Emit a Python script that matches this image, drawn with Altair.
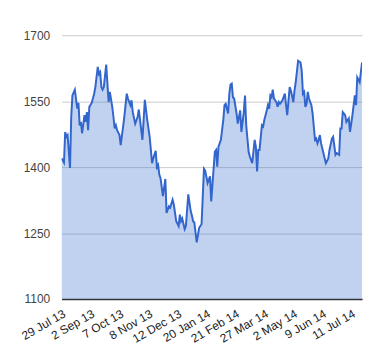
import altair as alt
import pandas as pd

days = [0, 2, 3, 4, 5, 7, 8, 9, 11, 13, 14, 15, 16, 17, 19, 20, 21, 22, 23, 25,
        27, 28, 30, 31, 32, 33, 34, 35, 37, 38, 39, 40, 42, 43, 44, 45, 46, 48, 49, 51,
        52, 54, 55, 57, 58, 59, 61, 63, 64, 67, 68, 69, 71, 73, 75, 76, 78, 79, 80, 81,
        82, 84, 86, 87, 89, 90, 92, 93, 95, 97, 98, 99, 100, 102, 103, 105, 107, 108, 109, 110,
        112, 114, 116, 118, 119, 121, 123, 124, 127, 128, 129, 130, 132, 134, 135, 136, 138, 139, 140, 141,
        142, 143, 145, 146, 148, 149, 151, 152, 153, 154, 155, 156, 158, 160, 161, 162, 163, 164, 166, 167,
        168, 170, 171, 172, 173, 174, 175, 176, 178, 179, 180, 181, 183, 185, 186, 187, 189, 190, 192, 193,
        194, 196, 198, 199, 200, 201, 202, 203, 204, 205, 207, 208, 209, 210, 211, 212, 213, 214, 215, 216,
        218, 219, 221, 222, 224, 225, 227, 228, 230, 231, 232, 233, 235, 236, 238, 239, 241, 243, 244, 245,
        247, 248, 249]

values = [1420, 1410, 1480, 1469, 1473, 1398, 1514, 1563, 1576, 1533, 1546, 1495, 1503, 1477, 1518, 1503, 1525, 1484, 1537, 1546,
          1567, 1582, 1628, 1612, 1616, 1582, 1576, 1582, 1633, 1590, 1548, 1571, 1537, 1514, 1488, 1495, 1484, 1473, 1450, 1492,
          1514, 1567, 1556, 1541, 1552, 1525, 1499, 1514, 1531, 1462, 1507, 1553, 1507, 1469, 1409, 1420, 1437, 1400, 1405, 1383,
          1375, 1334, 1373, 1296, 1311, 1308, 1326, 1315, 1277, 1266, 1292, 1277, 1283, 1259, 1266, 1338, 1300, 1290, 1277, 1274,
          1229, 1262, 1270, 1396, 1392, 1364, 1379, 1322, 1435, 1439, 1401, 1446, 1462, 1507, 1541, 1544, 1522, 1567, 1588, 1590,
          1559, 1556, 1522, 1499, 1529, 1480, 1525, 1563, 1495, 1465, 1435, 1424, 1409, 1462, 1446, 1390, 1439, 1439, 1495, 1492,
          1507, 1529, 1541, 1533, 1563, 1559, 1576, 1556, 1548, 1537, 1548, 1544, 1552, 1567, 1541, 1518, 1582, 1574, 1548, 1574,
          1593, 1642, 1638, 1619, 1567, 1571, 1537, 1544, 1571, 1556, 1541, 1522, 1492, 1462, 1465, 1454, 1462, 1473, 1454, 1443,
          1420, 1409, 1420, 1439, 1465, 1469, 1428, 1432, 1428, 1488, 1488, 1525, 1518, 1503, 1511, 1480, 1518, 1563, 1541, 1604,
          1593, 1616, 1638]

tick_days = [0, 24, 48, 72, 96, 120, 144, 168, 192, 216, 240]
tick_labels = ["29 Jul 13", "2 Sep 13", "7 Oct 13", "8 Nov 13", "12 Dec 13", "20 Jan 14",
               "21 Feb 14", "27 Mar 14", "2 May 14", "9 Jun 14", "11 Jul 14"]
y_ticks = [1100, 1250, 1400, 1550, 1700]

df = pd.DataFrame({"day": days, "value": values})

label_array = "[" + ",".join("'" + s + "'" for s in tick_labels) + "]"

x_enc = alt.X(
    "day:Q",
    scale=alt.Scale(domain=[0, 249], nice=False, zero=False),
    axis=alt.Axis(
        values=tick_days,
        labelExpr=label_array + "[round(datum.value / 24)]",
        labelAngle=-30,
        labelAlign="right",
        labelBaseline="top",
        labelPadding=9,
        labelFont="Liberation Sans",
        labelFontSize=12,
        labelColor="#222222",
        ticks=False,
        grid=False,
        domain=True,
        domainColor="#333333",
        domainWidth=1.5,
        title=None,
        labelOverlap=False,
        labelFlush=False,
    ),
)

y_scale = alt.Scale(domain=[1100, 1700], nice=False, zero=False)
y_enc = alt.Y(
    "value:Q",
    scale=y_scale,
    axis=alt.Axis(
        values=y_ticks,
        format="d",
        ticks=False,
        domain=False,
        grid=True,
        gridColor="#cccccc",
        gridWidth=1,
        labelPadding=12,
        labelFont="Liberation Sans",
        labelFontSize=12,
        labelColor="#444444",
        title=None,
    ),
)

base = alt.Chart(df)

area = base.mark_area(color="#3366cc", fillOpacity=0.3, clip=True).encode(
    x=x_enc, y=y_enc, y2=alt.datum(1100)
)
line = base.mark_line(color="#3366cc", strokeWidth=2, clip=True).encode(
    x=x_enc, y=y_enc
)

chart = (
    alt.layer(area, line)
    .properties(
        width=303,
        height=266,
        autosize=alt.AutoSizeParams(type="none"),
        padding={"left": 54, "top": 26, "right": 10, "bottom": 56},
        background="white",
    )
    .configure_view(stroke=None, strokeWidth=0)
)

chart.save("out.html", embed_options={"renderer": "svg", "actions": False})
